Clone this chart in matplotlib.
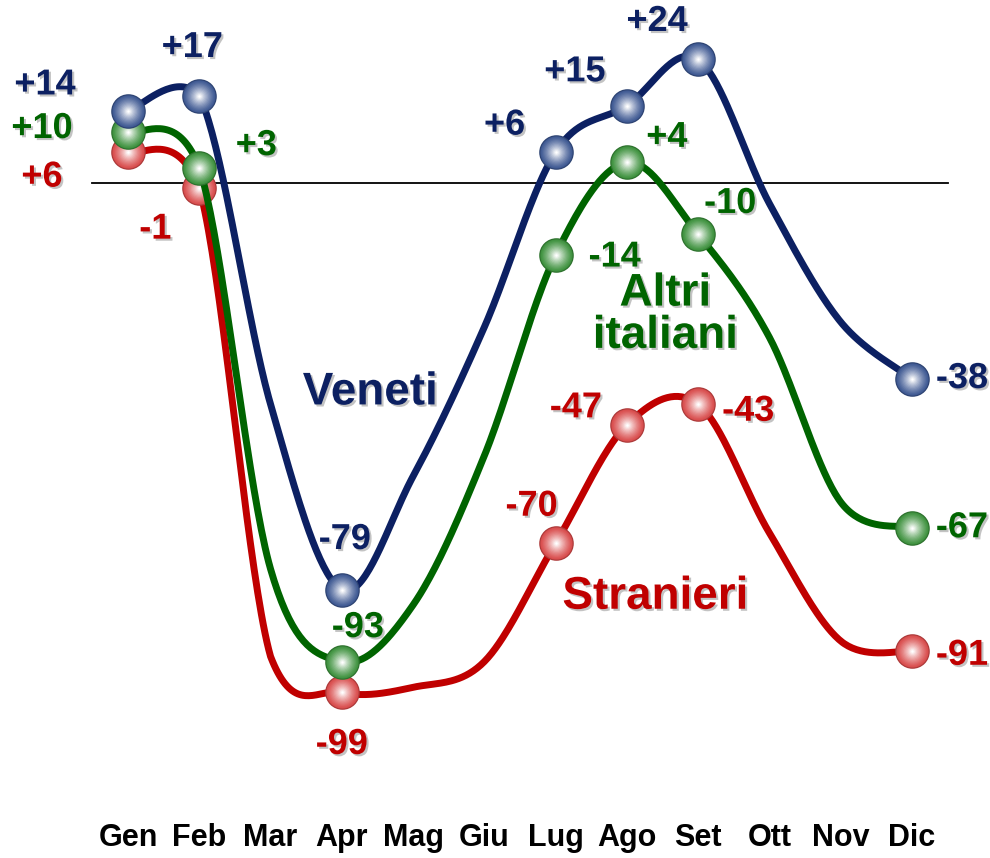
import numpy as np
import matplotlib.pyplot as plt
from matplotlib import patheffects as pe
from matplotlib.colors import to_rgb

# Monthly values (all months carry a value, only some show a marker/label)
months = ['Gen', 'Feb', 'Mar', 'Apr', 'Mag', 'Giu', 'Lug', 'Ago', 'Set', 'Ott', 'Nov', 'Dic']
veneti = [14, 17, -43, -79, -57, -28, 6, 15, 24, -4, -27, -38]
altri = [10, 3, -75, -93, -82, -53, -14, 4, -10, -30, -62, -67]
stranieri = [6, -1, -92, -99, -98, -93, -70, -47, -43, -68, -89, -91]
marked = [0, 1, 3, 6, 7, 8, 11]

# label offsets in pixels (dx, dy) for each marked month
off_veneti = [(-83, 26), (-7, 48), (3, 50), (-51, 27), (-52, 34), (-41, 38), (50, 0)]
off_altri = [(-86, 3), (57, 22), (16, 34), (59, -2), (40, 25), (32, 31), (50, 0)]
off_stranieri = [(-86, -25), (-44, -41), (0, -52), (-24, 37), (-51, 17), (50, -7), (50, -4)]

blue = '#0c2062'
green = '#006400'
red = '#c00000'


def smooth(y, n=40, lim=5):
    # Excel-like smoothed line (Catmull-Rom as cubic Bezier, control points kept near the segment)
    pts = np.column_stack([np.arange(len(y)), y]).astype(float)
    p = np.vstack([pts[0], pts, pts[-1]])
    t = np.linspace(0, 1, n)[:, None]
    out = []
    for i in range(len(y) - 1):
        p0, p1, p2, p3 = p[i], p[i + 1], p[i + 2], p[i + 3]
        c1 = p1 + (p2 - p0) / 6
        c2 = p2 - (p3 - p1) / 6
        lo, hi = min(p1[1], p2[1]) - lim, max(p1[1], p2[1]) + lim
        c1[1] = np.clip(c1[1], lo, hi)
        c2[1] = np.clip(c2[1], lo, hi)
        seg = (1 - t)**3 * p1 + 3 * (1 - t)**2 * t * c1 + 3 * (1 - t) * t**2 * c2 + t**3 * p2
        out.append(seg if i == 0 else seg[1:])
    return np.vstack(out)


def sphere(ax, xs, ys, base, z):
    b = np.array(to_rgb(base))
    n = 14
    for k in range(n):
        f = k / (n - 1)
        size = 620 * (1 - 0.93 * f)**2
        col = b * (1 - f**1.3) + np.ones(3) * f**1.3
        if k == 0:
            col = b * 0.8
        ax.scatter(xs, ys, s=size, color=col, zorder=z, linewidths=0)


fig = plt.figure(figsize=(9.9, 8.58), dpi=100)
ax = fig.add_axes([0, 0, 1, 1])
ax.set_xlim(-1.796, 12.095)
ax.set_ylim(-131.17, 35.56)
ax.axis('off')

ax.plot([-0.5, 11.5], [0, 0], color='black', lw=1.3, zorder=1)

shadow = [pe.SimplePatchShadow(offset=(1.5, -1.5), shadow_rgbFace='#888888', alpha=0.5), pe.Normal()]

series = [
    (stranieri, red, '#d84848', off_stranieri, 2),
    (altri, green, '#3a8f3a', off_altri, 4),
    (veneti, blue, '#3a5590', off_veneti, 6),
]
for vals, col, mcol, offs, z in series:
    curve = smooth(vals)
    ax.plot(curve[:, 0], curve[:, 1], color=col, lw=5, zorder=z, solid_capstyle='round')
    xs = np.array(marked)
    ys = np.array(vals)[marked]
    sphere(ax, xs, ys, mcol, z + 0.5)
    for x, y, (dx, dy) in zip(xs, ys, offs):
        txt = f'{y:+d}' if y != 0 else '0'
        ax.annotate(txt, (x, y), xytext=(dx * 0.72, dy * 0.72), textcoords='offset points',
                    ha='center', va='center', fontsize=26, fontweight='bold', color=col,
                    family='Liberation Sans', zorder=10, path_effects=shadow)

ax.text(3.4, -40.7, 'Veneti', ha='center', va='center', fontsize=33, fontweight='bold',
        color=blue, family='Liberation Sans', path_effects=shadow)
ax.text(7.54, -25.6, 'Altri\nitaliani', ha='center', va='center', fontsize=33, fontweight='bold',
        color=green, family='Liberation Sans', linespacing=0.95, path_effects=shadow)
ax.text(7.4, -80.4, 'Stranieri', ha='center', va='center', fontsize=33, fontweight='bold',
        color=red, family='Liberation Sans', path_effects=shadow)

for i, m in enumerate(months):
    ax.text(i, -127.2, m, ha='center', va='center', fontsize=22, fontweight='bold',
            color='black', family='Liberation Sans')

fig.savefig('out.png', dpi=100)
